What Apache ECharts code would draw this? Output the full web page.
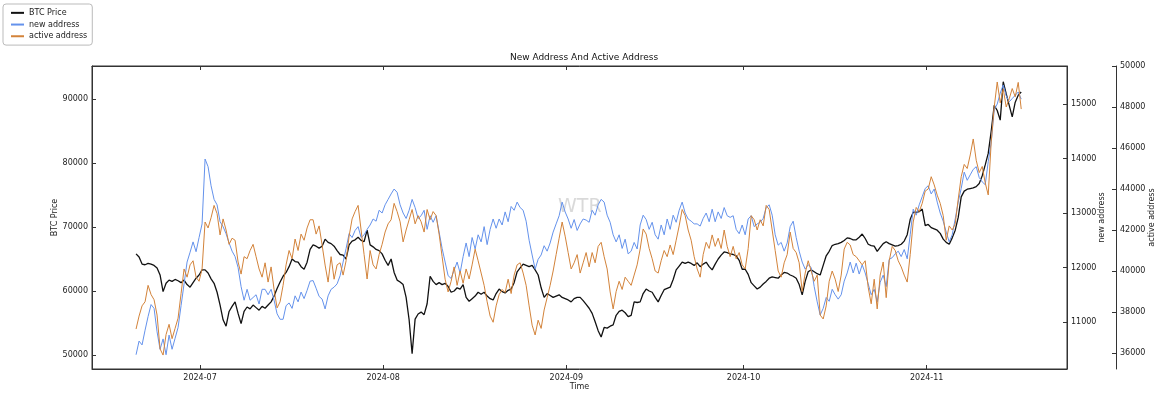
<!DOCTYPE html>
<html>
<head>
<meta charset="utf-8">
<script src="https://cdn.jsdelivr.net/npm/echarts@6/dist/echarts.min.js"></script>
<style>
  html, body { margin: 0; padding: 0; background: #fff; }
  #chart { width: 1162px; height: 397px; }
</style>
</head>
<body>
<div id="chart"></div>
<script>
// half-day samples, first one on 2024-06-20
const START = Date.UTC(2024, 5, 20, 4)
const STEP = 12.19 * 3600 * 1000

const seriesNames = ['BTC Price', 'new address', 'active address']

const btcPrice = [
  65800, 65300, 64200, 64100, 64300, 64200, 64000, 63600, 62500, 59900,
  61200, 61700, 61500, 61800, 61600, 61300, 61700, 61000, 60600, 61300,
  62000, 62500, 63300, 63300, 62800, 61900, 61200, 59800, 57800, 55500,
  54500, 56800, 57600, 58300, 56500, 54900, 56800, 57500, 57200, 57800,
  57400, 57000, 57600, 57300, 57800, 58300, 59200, 60400, 61400, 62300,
  62900, 63800, 65000, 64600, 64500, 63800, 63400, 64500, 66500, 67200,
  67000, 66700, 67000, 68100, 67600, 67400, 67000, 66300, 65700, 65600,
  65000, 67200, 67800, 68000, 68400, 67900, 67700, 69500, 67200, 66900,
  66500, 66300, 65800, 64800, 64000, 65000, 62900, 61700, 61400, 61000,
  59000, 55500, 50200, 55600, 56400, 56700, 56300, 58000, 62300, 61500,
  61000, 61300, 61000, 61200, 60700, 59800, 60000, 60500, 60300, 61000,
  59000, 58400, 58800, 59200, 59800, 59500, 59800, 59200, 58800, 58600,
  59600, 60300, 59900, 59700, 60100, 60300, 61300, 63000, 63600, 64200,
  64000, 63800, 64000, 63300, 62500, 60500, 59000, 59600, 59300, 59000,
  59200, 59400, 59000, 58800, 58600, 58300, 58800, 59000, 59000, 58500,
  57900, 57300, 56500, 55200, 53800, 52800, 54300, 54200, 54500, 54700,
  56200, 56800, 57000, 56600, 56000, 56200, 58300, 58200, 58300, 59600,
  60300, 60000, 59800, 59000, 58300, 59300, 60200, 60400, 60600, 61800,
  63300, 63900, 64500, 64300, 64500, 64300, 64000, 64400, 63800, 64200,
  64500, 63800, 63300, 64200, 65000, 65600, 66100, 66000, 65800, 65700,
  65500, 64800, 63400, 63400, 62600, 61300, 60800, 60300, 60600, 61100,
  61500, 62000, 62200, 62100, 62000, 62500, 62900, 62800, 62500, 62300,
  62000, 61000, 59400, 61500, 63000, 63300, 63000, 62700, 62500, 64000,
  65500, 66200, 67100, 67300, 67400, 67600, 67900, 68300, 68200, 68000,
  68000, 68400, 68900, 68200, 67300, 67100, 67000, 66200, 66800, 67400,
  67700, 67400, 67200, 67000, 67100, 67300, 67800, 68800, 71200, 72300,
  72300, 72400, 72800, 70200, 70400, 69900, 69700, 69500, 69000, 68100,
  67600, 67300, 68300, 69500, 71500, 74700, 75600, 75900, 76000, 76100,
  76300, 76800, 78000, 79700, 81500, 85000, 89000, 88200, 86700, 92700,
  90800, 89000, 87200, 89500, 90600, 91100,
]

const newAddress = [
  10400, 10650, 10580, 10850, 11100, 11320, 11250, 10820, 10500, 10690,
  10400, 10760, 10500, 10700, 10900, 11300, 11700, 12100, 12280, 12470,
  12290, 12550, 12800, 13990, 13850, 13500, 13250, 13150, 12840, 12750,
  12620, 12450, 12300, 12200, 12000, 11650, 11400, 11600, 11400, 11450,
  11500, 11330, 11600, 11600, 11500, 11600, 11400, 11150, 11050, 11050,
  11300, 11350, 11250, 11480, 11370, 11550, 11430, 11580, 11750, 11760,
  11620, 11470, 11420, 11240, 11480, 11600, 11640, 11700, 11850, 12100,
  12350, 12620, 12550, 12680, 12750, 12550, 12600, 12700, 12780, 12890,
  12850, 13050, 13000, 13150, 13250, 13350, 13440, 13380, 13150, 13000,
  12900, 13050, 13250, 13100, 12900, 12950, 13050, 12700, 12950, 12830,
  12950, 12650, 12350, 12100, 11850, 11800, 11950, 12100, 11900, 12200,
  12450, 12200, 12550, 12340, 12600, 12470, 12750, 12420, 12700, 12890,
  12720, 12890, 12780, 13020, 12840, 13120, 13050, 13200, 13100, 13050,
  12850, 12500, 12230, 11970, 12150, 12230, 12400, 12300, 12450, 12650,
  12800, 12950, 13200, 13020, 12890, 12720, 12880, 12680, 12800, 12890,
  12870, 12830, 13050, 12960, 13150, 13250, 13200, 12960, 12830, 12600,
  12470, 12600, 12350, 12520, 12250, 12300, 12460, 12340, 12780, 12960,
  12880, 12700, 12830, 12600, 12520, 12780, 12600, 12890, 12700, 12960,
  12830, 13050, 13200, 13000, 12890, 12850, 12800, 12800, 12760, 12900,
  13000, 12840, 13070, 12840, 13020, 12900, 13100, 12950, 12920, 12950,
  12700, 12620, 12780, 12600, 12890, 12950, 12750, 12800, 12830, 12900,
  13100, 13150, 12960, 12600, 12410, 12460, 12300, 12450, 12750, 12850,
  12550, 12300, 12100, 11970, 12050, 12000, 11650, 11370, 11130, 11250,
  11450, 11380, 11600, 11500, 11420, 11500, 11750, 11900, 12100, 11900,
  12080, 11880, 12050, 11900, 11700, 11500, 11600, 11370, 11730, 11860,
  11650, 12150, 12180, 12250, 12300, 12200, 12330, 12160, 12600, 13070,
  12960, 13150, 13300, 13450, 13500, 13350, 13440, 13200, 13000, 12850,
  12650, 12470, 12600, 12890, 13200, 13450, 13750, 13600, 13700, 13800,
  13850, 13650, 13570, 13520, 13940, 14300, 14900, 15000, 15200, 15350,
  15150, 15040, 15100, 15160, 15220, 15090,
]

const activeAddress = [
  37170, 37800, 38300, 38500, 39300, 38850, 38600, 37850, 36200, 35900,
  36900, 37400, 36700, 37200, 37700, 38900, 40100, 39700, 40300, 40500,
  39700, 39500, 40100, 42390, 42100, 42600, 43200, 42800, 41760, 42540,
  42000, 41300, 41600, 41500, 40440, 39850, 40700, 40600, 41000, 41300,
  40700, 40100, 39700, 40400, 39460, 40200, 39100, 38200, 38500, 39300,
  40300, 41000, 40600, 41560, 41000, 41800, 41500, 42100, 42500, 42500,
  41800, 42200, 41270, 40290, 39460, 40700, 39600, 40300, 40400, 39800,
  40500, 41700, 42540, 42900, 43200, 42000, 40800, 39610, 41000, 40300,
  40100, 40800, 41300, 41900, 42300, 42500, 43300, 42900, 42400, 41420,
  42000, 42500, 43000, 42300, 42700, 42400, 41900, 43000, 42500, 42900,
  42700, 41800, 40700, 39600, 38980, 39500, 40200, 39300, 40000, 39400,
  40100, 39610, 40300, 41070, 40500, 39900, 39300, 38500, 37800, 37500,
  38300, 38850, 39100, 38950, 39600, 38900, 39800, 40300, 40400, 39900,
  39300, 38300, 37360, 36880, 37600, 37200, 38100, 38700, 39300, 40000,
  40800, 41600, 42390, 41700, 40900, 40100, 40400, 40800, 39900, 40400,
  40900, 40200, 40900, 40400, 41200, 41400, 40700, 40100, 38980, 38150,
  39000, 39500, 39100, 39700, 39500, 39300, 39800, 40300, 41070, 42050,
  41800, 41100, 40600, 40000, 39900, 40500, 41000, 40700, 41270, 40800,
  41500, 42200, 43000, 42700, 42000, 41500, 40700, 40100, 39700, 40800,
  41400, 41100, 41760, 41200, 41600, 41100, 42000, 41200, 40700, 41200,
  40600, 40900, 40300, 40100, 41100, 42700, 42500, 42000, 42500, 42200,
  43200, 43000, 42000, 41000, 40000, 39700, 40400, 40800, 41900, 41100,
  40900, 40400, 39000, 39900, 40500, 40000, 39500, 39800, 37850, 37660,
  38300, 39500, 40000, 39600, 39000, 39800, 41070, 41400, 41270, 40800,
  40700, 40500, 40300, 40500, 39200, 38400, 39600, 38150, 39800, 40440,
  38700, 40500, 41200, 41000, 40500, 40200, 39800, 39460, 40800, 42390,
  43100, 42900, 43300, 43900, 44000, 44600, 44200, 43700, 43300, 42700,
  41500, 42200, 42000, 42300, 43500, 44600, 45200, 45000, 45660, 46440,
  45400, 44800, 45100, 44300, 43710, 46300, 48000, 49220, 48200, 48880,
  48000, 48400, 48900, 48500, 49200, 47900,
]

const monthTicks = [
  Date.UTC(2024, 6, 1), Date.UTC(2024, 7, 1), Date.UTC(2024, 8, 1),
  Date.UTC(2024, 9, 1), Date.UTC(2024, 10, 1),
]
const btcTicks = [50000, 60000, 70000, 80000, 90000]
const newTicks = [11000, 12000, 13000, 14000, 15000]
const activeTicks = [36000, 38000, 40000, 42000, 44000, 46000, 48000, 50000]

const FONT = 'DejaVu Sans'
const AXIS_COLOR = '#333'
const TEXT_COLOR = '#222'

const toPairs = arr => arr.map((v, i) => [START + i * STEP, v])
const fmtMonth = v => {
  const d = new Date(v)
  return d.getUTCFullYear() + '-' + String(d.getUTCMonth() + 1).padStart(2, '0')
}

// timestamps on a plain value axis so the month ticks can be placed exactly
const xCommon = {
  type: 'value',
  min: Date.UTC(2024, 5, 12, 17),
  max: Date.UTC(2024, 10, 24, 18),
  axisLine: { lineStyle: { color: AXIS_COLOR } },
  axisTick: { inside: true, length: 4, customValues: monthTicks, lineStyle: { color: AXIS_COLOR } },
  splitLine: { show: false },
}

const yCommon = (min, max, ticks, name, gap) => ({
  type: 'value',
  min,
  max,
  name,
  nameLocation: 'middle',
  nameRotate: 90,
  nameGap: gap,
  nameMoveOverlap: false,
  nameTextStyle: { fontSize: 8, color: TEXT_COLOR, fontFamily: FONT },
  axisLine: { show: true, lineStyle: { color: AXIS_COLOR } },
  axisTick: { show: true, inside: true, length: 4, customValues: ticks, lineStyle: { color: AXIS_COLOR } },
  axisLabel: {
    customValues: ticks,
    formatter: v => String(v),
    fontSize: 8,
    color: TEXT_COLOR,
    fontFamily: FONT,
    margin: 4,
  },
  splitLine: { show: false },
})

const chart = echarts.init(document.getElementById('chart'))
chart.setOption({
  animation: false,
  backgroundColor: '#fff',
  title: {
    text: 'New Address And Active Address',
    left: 579,
    textAlign: 'center',
    top: 48,
    textStyle: { fontSize: 9, fontWeight: 'normal', color: '#111', fontFamily: FONT },
  },
  legend: {
    data: seriesNames,
    orient: 'vertical',
    left: 3,
    top: 4,
    icon: 'rect',
    itemWidth: 13,
    itemHeight: 2,
    itemGap: 0,
    padding: [3, 5, 3, 8],
    borderColor: '#bbb',
    borderWidth: 1,
    borderRadius: 3,
    backgroundColor: '#fff',
    textStyle: { fontSize: 8, lineHeight: 11.7, color: TEXT_COLOR, fontFamily: FONT },
  },
  graphic: [{
    type: 'text',
    left: 558,
    top: 198,
    silent: true,
    z: 0,
    style: { text: 'WTR', fontSize: 19, fill: 'rgba(185,185,185,0.55)', fontFamily: FONT },
  }],
  grid: {
    left: 92,
    right: 95,
    top: 66,
    bottom: 28,
    outerBoundsMode: 'none',
    show: true,
    borderColor: AXIS_COLOR,
    borderWidth: 1,
  },
  xAxis: [
    {
      ...xCommon,
      position: 'bottom',
      name: 'Time',
      nameLocation: 'middle',
      nameGap: 14,
      nameMoveOverlap: false,
      nameTextStyle: { fontSize: 8, color: TEXT_COLOR, fontFamily: FONT },
      axisLabel: { customValues: monthTicks, formatter: fmtMonth, fontSize: 8, color: TEXT_COLOR, fontFamily: FONT, margin: 5 },
    },
    {
      ...xCommon,
      position: 'top',
      axisLabel: { show: false },
    },
  ],
  yAxis: [
    { ...yCommon(47810, 95156, btcTicks, 'BTC Price', 33), position: 'left' },
    { ...yCommon(10138, 15697, newTicks, 'new address', 31), position: 'right' },
    { ...yCommon(35220, 50000, activeTicks, 'active address', 32), position: 'right', offset: 49 },
  ],
  series: [
    {
      name: seriesNames[0],
      type: 'line',
      yAxisIndex: 0,
      showSymbol: false,
      symbol: 'none',
      color: '#111',
      lineStyle: { width: 1.3, color: '#111' },
      data: toPairs(btcPrice),
    },
    {
      name: seriesNames[1],
      type: 'line',
      yAxisIndex: 1,
      showSymbol: false,
      symbol: 'none',
      color: '#6492ec',
      lineStyle: { width: 1, color: '#6492ec' },
      data: toPairs(newAddress),
    },
    {
      name: seriesNames[2],
      type: 'line',
      yAxisIndex: 2,
      showSymbol: false,
      symbol: 'none',
      color: '#d3833a',
      lineStyle: { width: 1, color: '#d3833a' },
      data: toPairs(activeAddress),
    },
  ],
})
</script>
</body>
</html>
